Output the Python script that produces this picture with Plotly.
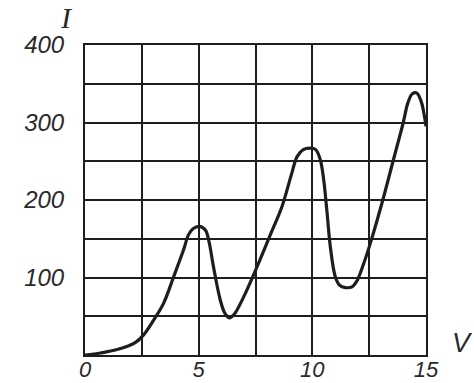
import plotly.graph_objects as go

# Data (V, I)
voltage = [0.0, 0.68, 1.41, 2.21, 2.58, 3.02, 3.46, 3.9, 4.34, 4.55, 4.75, 5.05, 5.3, 5.45, 5.65,
           5.95, 6.15, 6.35, 6.55, 6.98, 7.57, 8.15, 8.67, 9.1, 9.33, 9.6, 9.91, 10.15, 10.35,
           10.5, 10.65, 10.79, 11.01, 11.2, 11.45, 11.75, 11.95, 12.26, 12.55, 13.1, 13.55,
           14.0, 14.2, 14.4, 14.6, 14.8, 14.92, 15.0]
current = [0, 2.6, 7, 16, 26, 45, 67, 101, 136, 155, 163, 166, 161, 147, 114,
           71, 54, 48, 52, 75, 114, 155, 192, 235, 256, 265, 267, 265, 252,
           226, 183, 140, 101, 90, 87, 88, 95, 118, 144, 200, 250,
           300, 325, 337, 338, 326, 310, 295]

x_ticks = [0, 5, 10, 15]
x_tick_text = ["0", "5", "10", "15"]
y_ticks = [100, 200, 300, 400]
y_tick_text = ["100", "200", "300", "400"]
x_label = "V"
y_label = "I"

ink = "#1e1e1e"
tick_font = dict(family="Liberation Sans", size=24, color="#2a2a2a", style="italic")
xtick_font = dict(family="Liberation Sans", size=22, color="#2a2a2a", style="italic")

fig = go.Figure()
fig.add_trace(go.Scatter(
    x=voltage, y=current, mode="lines",
    line=dict(color=ink, width=3.2, shape="spline", smoothing=1.0),
    hoverinfo="skip",
))

fig.update_layout(
    width=474, height=383,
    margin=dict(l=85, r=48, t=45, b=28, autoexpand=False),
    paper_bgcolor="white", plot_bgcolor="white",
    showlegend=False,
    xaxis=dict(
        range=[0, 15], tickvals=x_ticks, ticktext=x_tick_text,
        showgrid=True, gridcolor=ink, gridwidth=2,
        minor=dict(dtick=2.5, showgrid=True, gridcolor=ink, gridwidth=2),
        showline=True, linecolor=ink, linewidth=2, mirror=True,
        zeroline=False, ticks="", tickfont=xtick_font, ticklabelstandoff=-6,
        automargin=False, fixedrange=True,
    ),
    yaxis=dict(
        range=[0, 400], tickvals=y_ticks, ticktext=y_tick_text,
        showgrid=True, gridcolor=ink, gridwidth=2,
        minor=dict(dtick=50, showgrid=True, gridcolor=ink, gridwidth=2),
        showline=True, linecolor=ink, linewidth=2, mirror=True,
        zeroline=False, ticks="", tickfont=tick_font, ticklabelstandoff=14,
        automargin=False, fixedrange=True,
    ),
    annotations=[
        dict(text=y_label, xref="paper", yref="paper", x=-0.053, y=1.09,
             showarrow=False, xanchor="center", yanchor="middle",
             font=dict(family="Liberation Serif", size=30, color="#2a2a2a", style="italic")),
        dict(text=x_label, xref="paper", yref="paper", x=1.106, y=0.04,
             showarrow=False, xanchor="center", yanchor="middle",
             font=dict(family="Liberation Sans", size=27, color="#2a2a2a", style="italic")),
    ],
)

fig.write_html("out.html")
